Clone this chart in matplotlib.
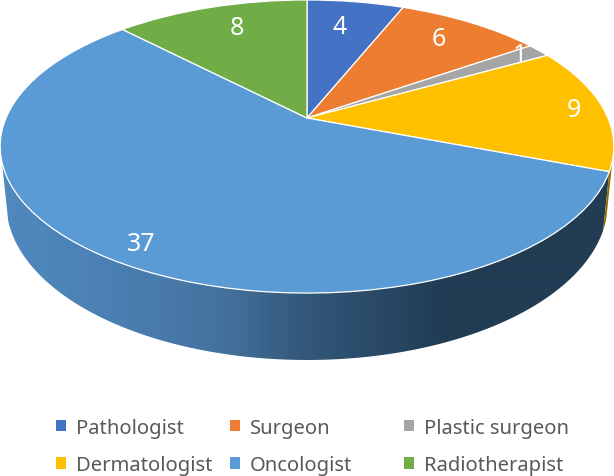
import numpy as np
import matplotlib
matplotlib.use("Agg")
import matplotlib.pyplot as plt
from matplotlib.patches import Patch, Polygon
from matplotlib.transforms import Transform
from matplotlib.colors import LinearSegmentedColormap, to_rgb

categories = ["Pathologist", "Surgeon", "Plastic surgeon", "Dermatologist", "Oncologist", "Radiotherapist"]
values = [4, 6, 1, 9, 37, 8]
colors = ["#4472C4", "#ED7D31", "#A5A5A5", "#FFC000", "#5B9BD5", "#70AD47"]

# projection of the flat pie into picture pixels
CX, CY, KX, KY, PERSP = 307.0, 119.0, 301.0, 141.0, 0.1946
BOT_SCALE, BOT_Y, BOT_KY = 0.98, 173.5, 151.0


class Tilt(Transform):
    input_dims = output_dims = 2
    is_separable = False
    has_inverse = False

    def transform_non_affine(self, xy):
        xy = np.asarray(xy, float)
        w = 1 + PERSP * xy[:, 1]
        return np.column_stack([CX + KX * xy[:, 0] / w, CY - KY * xy[:, 1] / w])


def rim(theta_deg, bottom=False):
    t = np.radians(theta_deg)
    u, v = np.sin(t), np.cos(t)
    w = 1 + PERSP * v
    if bottom:
        return np.column_stack([CX + BOT_SCALE * KX * u / w, BOT_Y - BOT_KY * v / w])
    return np.column_stack([CX + KX * u / w, CY - KY * v / w])


fig = plt.figure(figsize=(6.14, 4.77), dpi=100, facecolor="white")
ax = fig.add_axes([0, 0, 1, 1])

wedges, _ = ax.pie(values, colors=colors, startangle=90, counterclock=False, radius=1,
                   wedgeprops=dict(edgecolor="white", linewidth=0.9, zorder=3))
tilt = Tilt()
for w in wedges:
    w.set_transform(tilt + ax.transData)

edges = np.cumsum([0] + values) / sum(values) * 360
join = edges[4]              # dermatologist / oncologist boundary
left_end, right_end = 252.5, 106.5

# wall of the oncologist slice, shaded from left to right
th = np.linspace(join, left_end, 240)
wall = np.vstack([rim(th), rim(th[::-1], bottom=True)])
stops = [(0.0, "#5089BF"), (0.18, "#4B80B2"), (0.36, "#44729F"), (0.50, "#335779"),
         (0.66, "#264460"), (0.72, "#223C54"), (1.0, "#223C54")]
cmap = LinearSegmentedColormap.from_list("wall", [(p, to_rgb(c)) for p, c in stops])
img = ax.imshow(np.linspace(0, 1, 614)[None, :], cmap=cmap, extent=(0, 614, 370, 140),
                aspect="auto", zorder=1, interpolation="bilinear")
img.set_clip_path(Polygon(wall, closed=True, transform=ax.transData))

# thin visible wall of the dermatologist slice
th2 = np.linspace(right_end, join, 30)
ax.add_patch(Polygon(np.vstack([rim(th2), rim(th2[::-1], bottom=True)]), closed=True,
                     facecolor="#8F6C00", edgecolor="none", zorder=1))

ax.set_xlim(0, 614)
ax.set_ylim(477, 0)
ax.set_aspect("auto")
ax.axis("off")

# value labels, placed in each slice on the flat pie
label_radius = [0.757, 0.797, 0.92, 0.90, 0.89, 0.776]
label_angle = [9.3, 37.9, 57.3, 86.0, 211.8, -20.0]
for val, a, r in zip(values, label_angle, label_radius):
    t = np.radians(a)
    px, py = tilt.transform_non_affine(np.array([[r * np.sin(t), r * np.cos(t)]]))[0]
    ax.text(px, py, str(val), color="white", fontsize=18, family="Noto Sans",
            ha="center", va="center", zorder=5)

# legend: three columns on an even grid
col_x = [48, 222, 396]
for col, x0 in enumerate(col_x):
    idx = [col, col + 3]
    handles = [Patch(facecolor=colors[i], edgecolor="none") for i in idx]
    leg = ax.legend(handles, [categories[i] for i in idx], loc="center left",
                    bbox_to_anchor=(x0, 447.5), bbox_transform=ax.transData, frameon=False,
                    labelcolor="#595959", handlelength=0.47, handleheight=0.47,
                    handletextpad=0.5, labelspacing=0.86, borderpad=0.4, borderaxespad=0,
                    prop=dict(family="Noto Sans", size=14.5))
    if col < len(col_x) - 1:
        ax.add_artist(leg)

fig.savefig("out.png", dpi=100, facecolor="white")
